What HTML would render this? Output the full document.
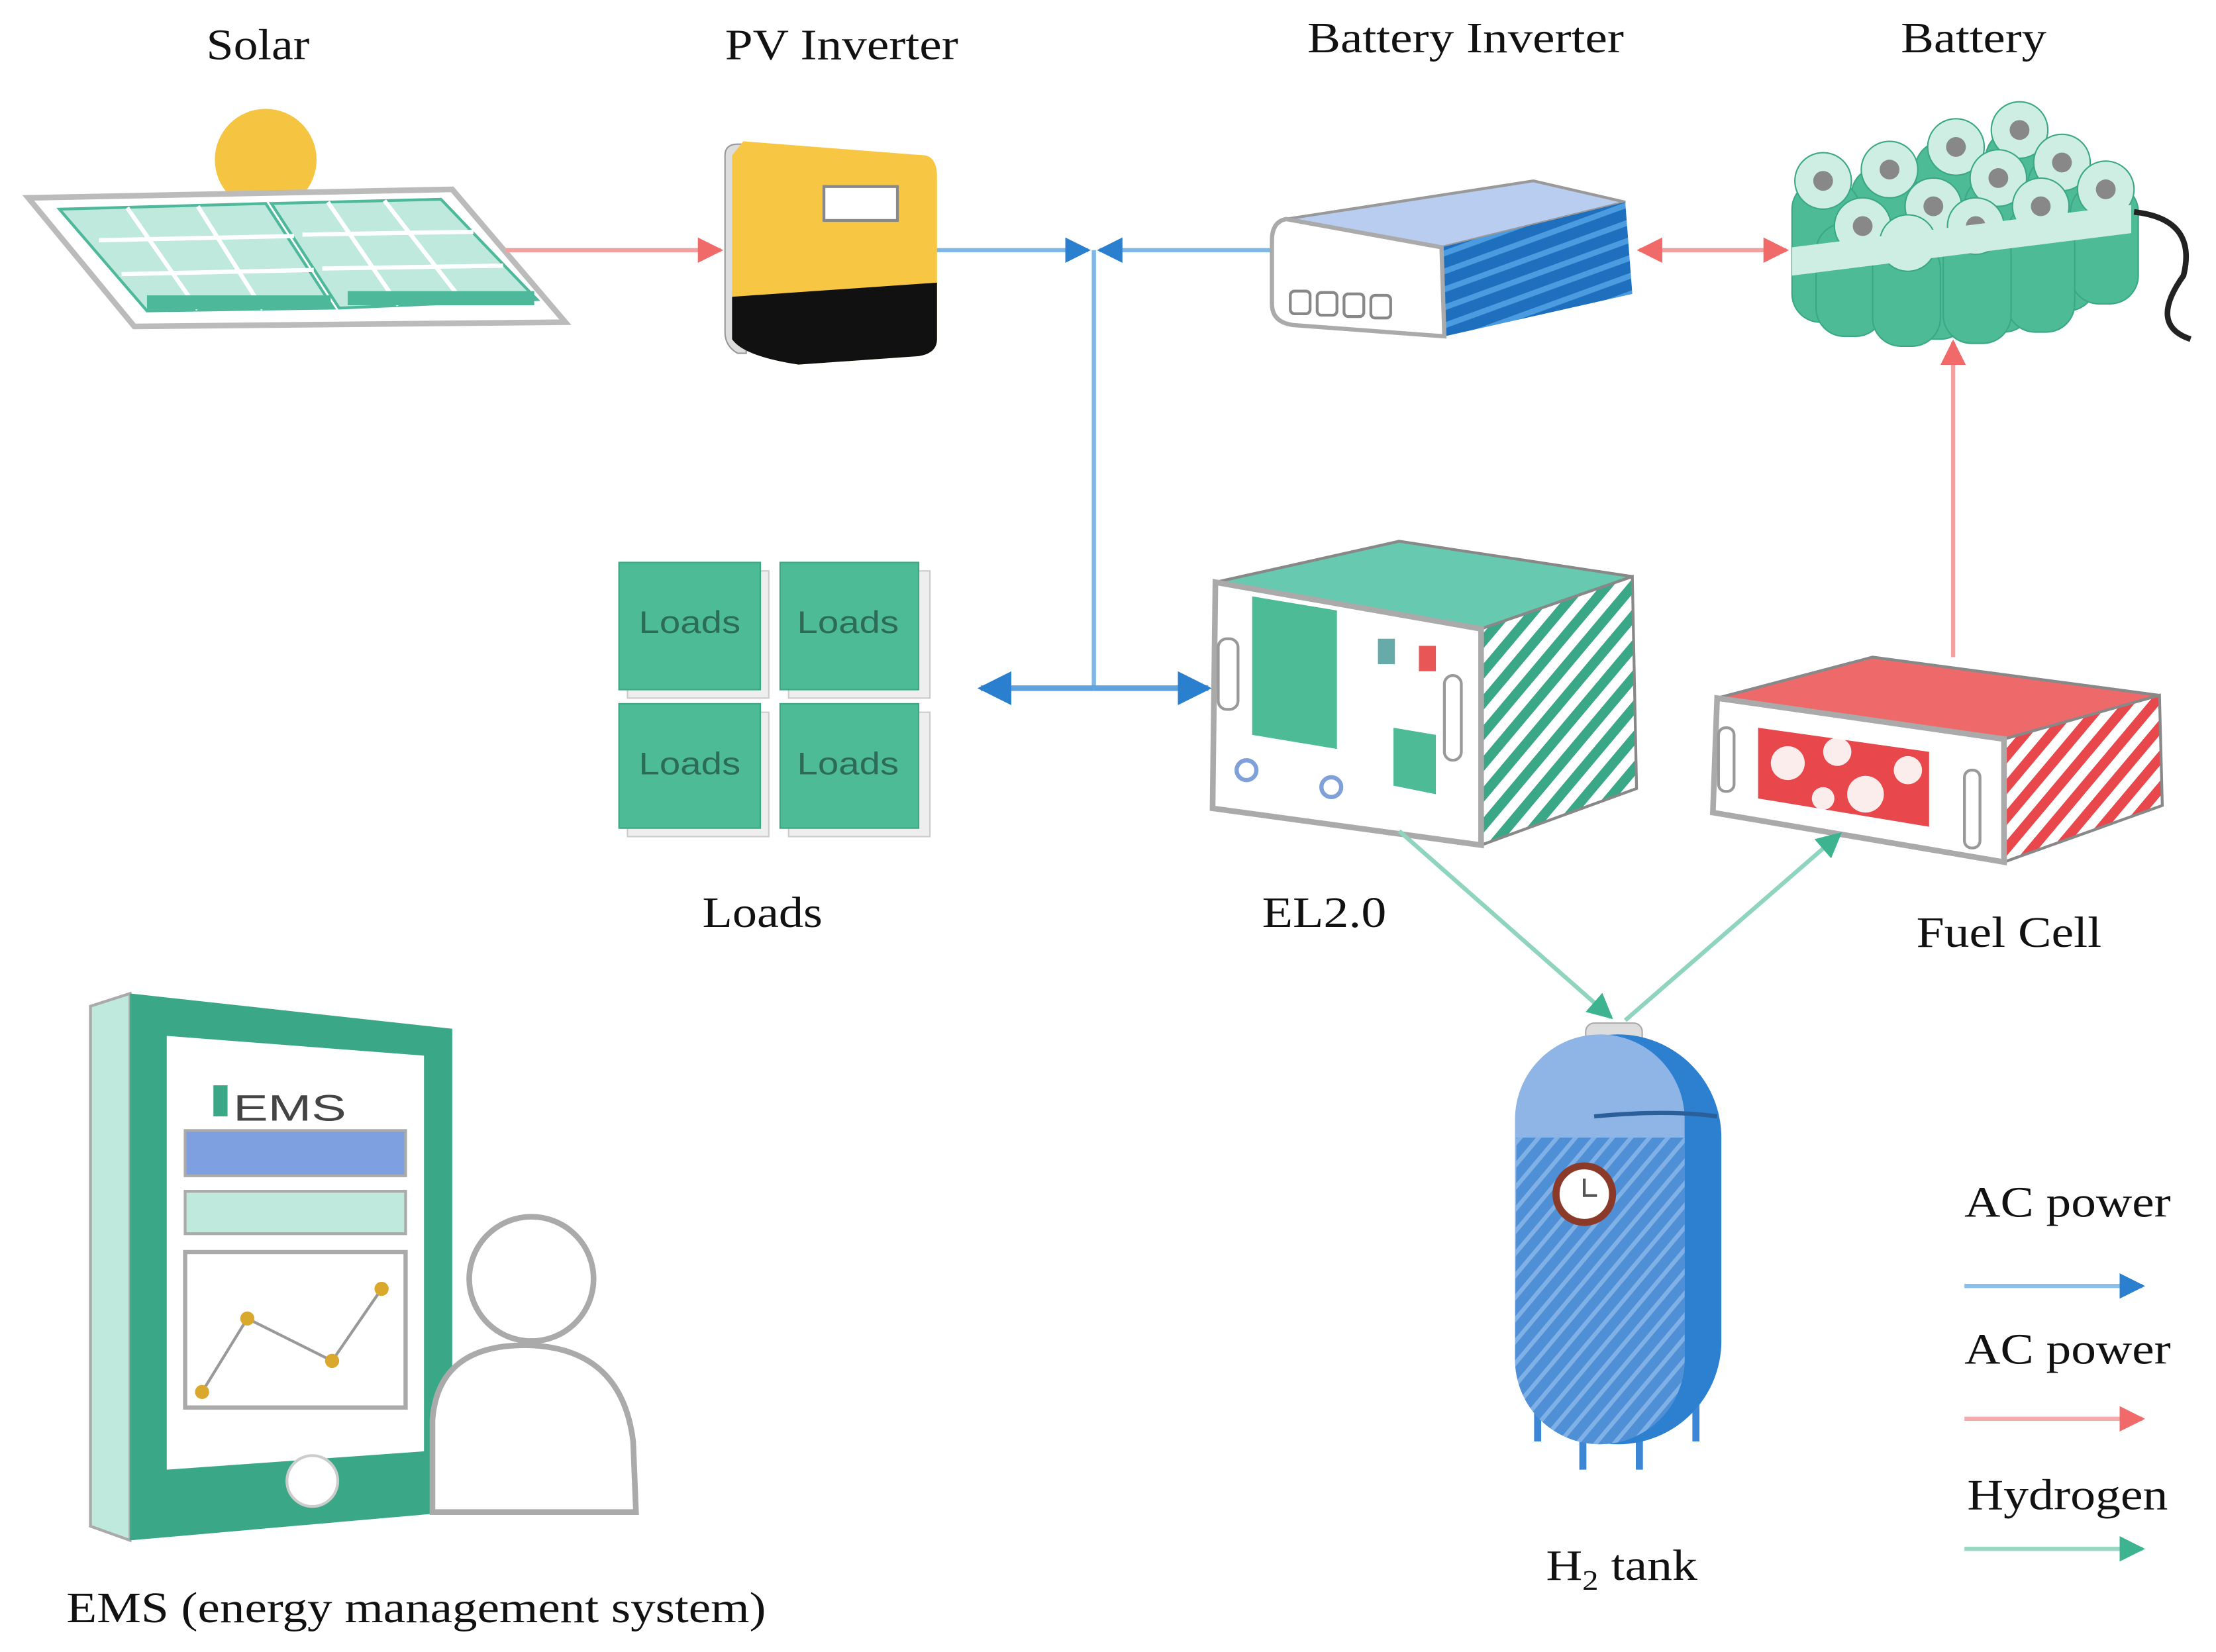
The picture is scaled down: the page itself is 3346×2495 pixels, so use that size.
<!DOCTYPE html>
<html><head><meta charset="utf-8"><style>html,body{margin:0;padding:0;background:#fff}svg{display:block}text{font-family:"Liberation Serif",serif;fill:#111}</style></head>
<body>
<svg width="3346" height="2495" viewBox="0 0 1568 1169" preserveAspectRatio="none" xmlns="http://www.w3.org/2000/svg">
<defs>
<marker id="ab" viewBox="0 0 10 10" refX="9" refY="5" markerWidth="6" markerHeight="6" orient="auto-start-reverse"><path d="M0,0L10,5L0,10z" fill="#2a7fcf"/></marker>
<marker id="ar" viewBox="0 0 10 10" refX="9" refY="5" markerWidth="6" markerHeight="6" orient="auto-start-reverse"><path d="M0,0L10,5L0,10z" fill="#f06a6a"/></marker>
<marker id="ag" viewBox="0 0 10 10" refX="9" refY="5" markerWidth="6" markerHeight="6" orient="auto-start-reverse"><path d="M0,0L10,5L0,10z" fill="#3db38f"/></marker>
<pattern id="hg" width="14" height="14" patternUnits="userSpaceOnUse" patternTransform="rotate(-50)"><rect width="14" height="14" fill="#fff"/><rect width="14" height="7" fill="#3aa886"/></pattern>
<pattern id="hr" width="14" height="14" patternUnits="userSpaceOnUse" patternTransform="rotate(-50)"><rect width="14" height="14" fill="#fff"/><rect width="14" height="7" fill="#e8474c"/></pattern>
<pattern id="hb" width="10" height="10" patternUnits="userSpaceOnUse" patternTransform="rotate(-50)"><rect width="10" height="10" fill="#4f8fd6"/><rect width="10" height="3" fill="#7fb0e6"/></pattern>
<pattern id="bs" width="12" height="12" patternUnits="userSpaceOnUse" patternTransform="rotate(-20)"><rect width="12" height="12" fill="#1f6fbf"/><rect width="12" height="4" fill="#4b9be0"/></pattern>
</defs>

<!-- labels -->
<text x="146" y="42" font-size="31" textLength="73" lengthAdjust="spacingAndGlyphs">Solar</text>
<text x="513" y="42" font-size="31" textLength="165" lengthAdjust="spacingAndGlyphs">PV Inverter</text>
<text x="925" y="37" font-size="31" textLength="224" lengthAdjust="spacingAndGlyphs">Battery Inverter</text>
<text x="1345" y="37" font-size="31" textLength="103" lengthAdjust="spacingAndGlyphs">Battery</text>
<text x="497" y="656" font-size="31" textLength="85" lengthAdjust="spacingAndGlyphs">Loads</text>
<text x="893" y="656" font-size="31" textLength="88" lengthAdjust="spacingAndGlyphs">EL2.0</text>
<text x="1356" y="670" font-size="31" textLength="131" lengthAdjust="spacingAndGlyphs">Fuel Cell</text>
<text x="1094" y="1118" font-size="31" textLength="107" lengthAdjust="spacingAndGlyphs">H<tspan font-size="20" dy="7">2</tspan><tspan dy="-7"> tank</tspan></text>
<text x="47" y="1148" font-size="31" textLength="495" lengthAdjust="spacingAndGlyphs">EMS (energy management system)</text>
<text x="1390" y="861" font-size="31" textLength="146" lengthAdjust="spacingAndGlyphs">AC power</text>
<text x="1390" y="965" font-size="31" textLength="146" lengthAdjust="spacingAndGlyphs">AC power</text>
<text x="1392" y="1068" font-size="31" textLength="142" lengthAdjust="spacingAndGlyphs">Hydrogen</text>

<!-- legend arrows -->
<line x1="1390" y1="910" x2="1516" y2="910" stroke="#8cc0ea" stroke-width="3" marker-end="url(#ab)"/>
<line x1="1390" y1="1004" x2="1516" y2="1004" stroke="#f4aaaa" stroke-width="3" marker-end="url(#ar)"/>
<line x1="1390" y1="1096" x2="1516" y2="1096" stroke="#9ad8c4" stroke-width="3" marker-end="url(#ag)"/>

<!-- solar -->
<circle cx="188" cy="113" r="36" fill="#f5c542"/>
<polygon points="20,140 320,134 400,228 95,231" fill="#fff" stroke="#bbb" stroke-width="4"/>
<polygon points="42,148 188,144 236,218 104,220" fill="#bfe9dd" stroke="#4eb99a" stroke-width="2"/>
<polygon points="192,144 312,141 380,212 240,218" fill="#bfe9dd" stroke="#4eb99a" stroke-width="2"/>
<g stroke="#fff" stroke-width="3">
<line x1="70" y1="170" x2="208" y2="167"/><line x1="86" y1="194" x2="222" y2="191"/>
<line x1="214" y1="166" x2="335" y2="164"/><line x1="228" y1="190" x2="356" y2="188"/>
<line x1="90" y1="147" x2="140" y2="219"/><line x1="140" y1="146" x2="186" y2="219"/>
<line x1="232" y1="143" x2="282" y2="216"/><line x1="272" y1="142" x2="328" y2="214"/>
</g>
<rect x="104" y="209" width="130" height="10" fill="#4eb99a"/><rect x="246" y="206" width="132" height="10" fill="#4eb99a"/>

<line x1="358" y1="177" x2="510" y2="177" stroke="#f4a0a0" stroke-width="3" marker-end="url(#ar)"/>

<!-- PV inverter -->
<path d="M513,110 Q513,102 522,102 L528,102 L528,250 L522,250 Q513,245 513,235Z" fill="#ddd" stroke="#999"/>
<path d="M526,100 L655,110 Q663,112 663,125 L663,240 Q663,250 650,252 L565,258 Q526,252 518,240 L518,110Z" fill="#f7c744"/>
<path d="M518,210 L663,200 L663,240 Q663,250 650,252 L565,258 Q526,252 518,240Z" fill="#111"/>
<rect x="583" y="132" width="52" height="24" fill="#fff" stroke="#888" stroke-width="2"/>

<!-- blue bus -->
<line x1="663" y1="177" x2="770" y2="177" stroke="#7fb8e8" stroke-width="3" marker-end="url(#ab)"/>
<line x1="900" y1="177" x2="778" y2="177" stroke="#7fb8e8" stroke-width="3" marker-end="url(#ab)"/>
<line x1="774" y1="177" x2="774" y2="487" stroke="#7fb8e8" stroke-width="3"/>
<line x1="774" y1="487" x2="694" y2="487" stroke="#5fa2dd" stroke-width="4" marker-end="url(#ab)"/>
<line x1="774" y1="487" x2="855" y2="487" stroke="#5fa2dd" stroke-width="4" marker-end="url(#ab)"/>

<!-- battery inverter -->
<polygon points="910,155 1085,128 1150,143 1020,175" fill="#b8cdf0" stroke="#999" stroke-width="2"/>
<polygon points="1020,175 1150,143 1155,208 1022,238" fill="url(#bs)"/>
<path d="M910,155 L1020,175 L1022,238 L915,230 Q900,228 900,215 L900,170 Q900,157 910,155Z" fill="#fff" stroke="#aaa" stroke-width="3"/>
<g fill="#fff" stroke="#888" stroke-width="2"><rect x="913" y="206" width="14" height="16" rx="3"/><rect x="932" y="207" width="14" height="16" rx="3"/><rect x="951" y="208" width="14" height="16" rx="3"/><rect x="970" y="209" width="14" height="16" rx="3"/></g>
<line x1="1160" y1="177" x2="1264" y2="177" stroke="#f4a0a0" stroke-width="3" marker-start="url(#ar)" marker-end="url(#ar)"/>

<!-- battery -->
<g stroke="#3aa886" stroke-width="1">
<g fill="#4dbb96">
<rect x="1405" y="92" width="48" height="120" rx="20"/>
<rect x="1355" y="100" width="48" height="120" rx="20"/>
<rect x="1435" y="110" width="48" height="110" rx="20"/>
<rect x="1310" y="118" width="48" height="115" rx="20"/>
<rect x="1390" y="125" width="48" height="110" rx="20"/>
<rect x="1465" y="130" width="48" height="85" rx="20"/>
<rect x="1268" y="128" width="48" height="100" rx="20"/>
<rect x="1345" y="145" width="48" height="95" rx="20"/>
<rect x="1420" y="145" width="48" height="90" rx="20"/>
<rect x="1285" y="158" width="48" height="80" rx="20"/>
<rect x="1375" y="158" width="48" height="85" rx="20"/>
<rect x="1325" y="170" width="48" height="75" rx="20"/>
</g>
<g fill="#cfeee3"><circle cx="1429" cy="92" r="20"/><circle cx="1384" cy="104" r="20"/><circle cx="1459" cy="115" r="20"/><circle cx="1337" cy="120" r="20"/><circle cx="1414" cy="126" r="20"/><circle cx="1490" cy="134" r="20"/><circle cx="1290" cy="128" r="20"/><circle cx="1368" cy="146" r="20"/><circle cx="1444" cy="146" r="20"/><circle cx="1318" cy="160" r="20"/><circle cx="1398" cy="160" r="20"/><circle cx="1350" cy="172" r="20"/></g>
<g fill="#888" stroke="none"><circle cx="1429" cy="92" r="7"/><circle cx="1384" cy="104" r="7"/><circle cx="1459" cy="115" r="7"/><circle cx="1337" cy="120" r="7"/><circle cx="1414" cy="126" r="7"/><circle cx="1490" cy="134" r="7"/><circle cx="1290" cy="128" r="7"/><circle cx="1368" cy="146" r="7"/><circle cx="1444" cy="146" r="7"/><circle cx="1318" cy="160" r="7"/><circle cx="1398" cy="160" r="7"/><circle cx="1350" cy="172" r="7"/></g>
</g>
<polygon points="1268,175 1508,145 1508,165 1268,195" fill="#cfeee3"/>
<path d="M1510,150 Q1555,155 1545,195 Q1520,230 1550,240" fill="none" stroke="#222" stroke-width="4"/>
<line x1="1382" y1="465" x2="1382" y2="242" stroke="#f4a0a0" stroke-width="3" marker-end="url(#ar)"/>

<!-- loads -->
<g>
<rect x="444" y="404" width="100" height="90" fill="#eee" stroke="#ccc"/><rect x="438" y="398" width="100" height="90" fill="#4dbb96" stroke="#3aa886"/>
<rect x="558" y="404" width="100" height="90" fill="#eee" stroke="#ccc"/><rect x="552" y="398" width="98" height="90" fill="#4dbb96" stroke="#3aa886"/>
<rect x="444" y="504" width="100" height="88" fill="#eee" stroke="#ccc"/><rect x="438" y="498" width="100" height="88" fill="#4dbb96" stroke="#3aa886"/>
<rect x="558" y="504" width="100" height="88" fill="#eee" stroke="#ccc"/><rect x="552" y="498" width="98" height="88" fill="#4dbb96" stroke="#3aa886"/>
</g>
<g font-family="Liberation Sans,sans-serif" font-size="22" fill="#2c6b58">
<text x="452" y="448" style="font-family:'Liberation Sans',sans-serif;fill:#2c6b58" textLength="72" lengthAdjust="spacingAndGlyphs">Loads</text>
<text x="564" y="448" style="font-family:'Liberation Sans',sans-serif;fill:#2c6b58" textLength="72" lengthAdjust="spacingAndGlyphs">Loads</text>
<text x="452" y="548" style="font-family:'Liberation Sans',sans-serif;fill:#2c6b58" textLength="72" lengthAdjust="spacingAndGlyphs">Loads</text>
<text x="564" y="548" style="font-family:'Liberation Sans',sans-serif;fill:#2c6b58" textLength="72" lengthAdjust="spacingAndGlyphs">Loads</text>
</g>

<!-- EL2.0 -->
<polygon points="860,412 990,383 1155,408 1048,445" fill="#66c9b0" stroke="#888" stroke-width="2"/>
<polygon points="1048,445 1155,408 1158,558 1048,598" fill="url(#hg)" stroke="#888" stroke-width="2"/>
<polygon points="860,412 1048,445 1048,598 858,572" fill="#fff" stroke="#aaa" stroke-width="4"/>
<polygon points="886,422 946,432 946,530 886,520" fill="#4dbb96"/>
<polygon points="986,515 1016,520 1016,562 986,556" fill="#4dbb96"/>
<rect x="975" y="452" width="12" height="18" fill="#6aa"/><rect x="1004" y="457" width="12" height="18" fill="#e85656"/>
<circle cx="882" cy="545" r="7" fill="#fff" stroke="#7fa0d8" stroke-width="3"/><circle cx="942" cy="557" r="7" fill="#fff" stroke="#7fa0d8" stroke-width="3"/>
<rect x="862" y="452" width="14" height="50" rx="6" fill="#fff" stroke="#999" stroke-width="2"/>
<rect x="1022" y="478" width="12" height="60" rx="6" fill="#fff" stroke="#999" stroke-width="2"/>

<!-- fuel cell -->
<polygon points="1215,494 1325,465 1528,492 1418,523" fill="#ee6a6a" stroke="#888" stroke-width="2"/>
<polygon points="1418,523 1528,492 1530,570 1418,610" fill="url(#hr)" stroke="#888" stroke-width="2"/>
<polygon points="1215,494 1418,523 1418,610 1212,575" fill="#fff" stroke="#aaa" stroke-width="4"/>
<polygon points="1244,515 1365,532 1365,585 1244,565" fill="#e8474c"/>
<g fill="#fff" opacity="0.9"><circle cx="1265" cy="540" r="12"/><circle cx="1300" cy="532" r="10"/><circle cx="1320" cy="562" r="13"/><circle cx="1350" cy="545" r="10"/><circle cx="1290" cy="565" r="8"/></g>
<rect x="1216" y="515" width="11" height="45" rx="5" fill="#fff" stroke="#999" stroke-width="2"/>
<rect x="1390" y="545" width="11" height="55" rx="5" fill="#fff" stroke="#999" stroke-width="2"/>

<!-- hydrogen lines -->
<line x1="990" y1="588" x2="1140" y2="720" stroke="#8fd4bf" stroke-width="3" marker-end="url(#ag)"/>
<line x1="1150" y1="722" x2="1302" y2="590" stroke="#8fd4bf" stroke-width="3" marker-end="url(#ag)"/>

<!-- tank -->
<rect x="1122" y="724" width="40" height="20" rx="6" fill="#ddd" stroke="#aaa"/>
<g stroke="#3b87d6" stroke-width="5"><line x1="1088" y1="990" x2="1088" y2="1020"/><line x1="1120" y1="1005" x2="1120" y2="1040"/><line x1="1200" y1="990" x2="1200" y2="1020"/><line x1="1160" y1="1005" x2="1160" y2="1040"/></g>
<rect x="1072" y="732" width="146" height="290" rx="73" fill="#2d7fd0"/>
<rect x="1072" y="732" width="120" height="290" rx="60" fill="#8fb5e6"/>
<path d="M1073,805 L1192,805 L1192,962 A60,60 0 0 1 1072,962Z" fill="url(#hb)"/>
<path d="M1128,790 Q1180,785 1215,790" fill="none" stroke="#2a5f99" stroke-width="3"/>
<circle cx="1121" cy="845" r="20" fill="#fff" stroke="#8b3a2a" stroke-width="5"/>
<path d="M1121,834 L1121,846 L1130,846" fill="none" stroke="#555" stroke-width="2"/>

<!-- EMS tablet -->
<polygon points="64,712 92,703 92,1090 64,1080" fill="#bfe9dd" stroke="#aaa" stroke-width="2"/>
<polygon points="92,703 320,728 320,1070 92,1090" fill="#3aa886"/>
<polygon points="118,733 300,747 300,1027 118,1040" fill="#fff"/>
<rect x="151" y="768" width="10" height="22" fill="#3aa886"/>
<text x="165" y="793" font-size="26" style="font-family:'Liberation Sans',sans-serif;fill:#444" textLength="80" lengthAdjust="spacingAndGlyphs">EMS</text>
<rect x="131" y="800" width="156" height="32" fill="#7fa0e0" stroke="#aaa" stroke-width="2"/>
<rect x="131" y="843" width="156" height="30" fill="#bfe9dd" stroke="#aaa" stroke-width="2"/>
<rect x="131" y="886" width="156" height="110" fill="#fff" stroke="#aaa" stroke-width="3"/>
<polyline points="143,985 175,933 235,963 270,912" fill="none" stroke="#999" stroke-width="2"/>
<g fill="#d9a82c"><circle cx="143" cy="985" r="5"/><circle cx="175" cy="933" r="5"/><circle cx="235" cy="963" r="5"/><circle cx="270" cy="912" r="5"/></g>
<ellipse cx="221" cy="1048" rx="18" ry="18" fill="#fff" stroke="#ccc" stroke-width="2"/>
<!-- person -->
<circle cx="376" cy="905" r="44" fill="#fff" stroke="#aaa" stroke-width="4"/>
<path d="M306,1070 L306,1005 Q310,950 376,952 Q440,955 448,1020 L450,1070Z" fill="#fff" stroke="#aaa" stroke-width="4"/>
</svg>
</body></html>
